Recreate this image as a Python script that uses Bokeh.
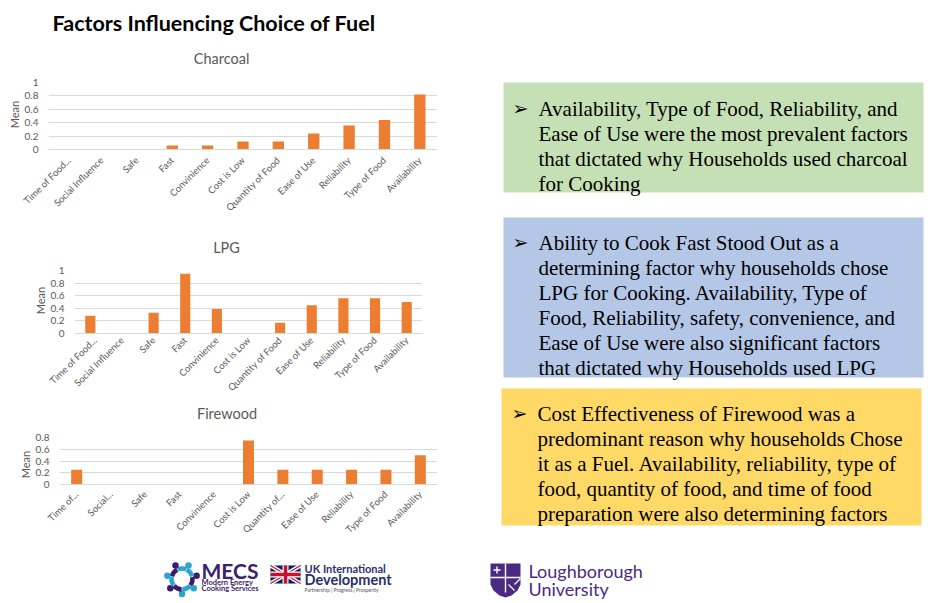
import math
from bokeh.plotting import figure
from bokeh.layouts import column, row
from bokeh.models import Range1d, FactorRange, FixedTicker, NumeralTickFormatter
from bokeh.embed import file_html
from bokeh.resources import INLINE
from bokeh.core.properties import value

# ---------------- data ----------------
factors = ["Time of Food...", "Social Influence", "Safe", "Fast", "Convinience",
           "Cost is Low", "Quantity of Food", "Ease of Use", "Reliability",
           "Type of Food", "Availability"]
firewood_factors = ["Time of...", "Social...", "Safe", "Fast", "Convinience",
                    "Cost is Low", "Quantity of...", "Ease of Use", "Reliability",
                    "Type of Food", "Availability"]
charcoal_mean = [0, 0, 0, 0.06, 0.06, 0.12, 0.12, 0.24, 0.36, 0.44, 0.82]
lpg_mean = [0.28, 0, 0.33, 0.95, 0.39, 0, 0.17, 0.45, 0.56, 0.56, 0.50]
firewood_mean = [0.25, 0, 0, 0, 0, 0.75, 0.25, 0.25, 0.25, 0.25, 0.50]
ticks_to_1 = [0, 0.2, 0.4, 0.6, 0.8, 1.0]
ticks_to_08 = [0, 0.2, 0.4, 0.6, 0.8]

slide_title = "Factors Influencing  Choice of Fuel"
chart_titles = ["Charcoal", "LPG", "Firewood"]
y_label = "Mean"
charcoal_note = ["Availability, Type of Food, Reliability, and",
                 "Ease of Use were the most prevalent factors",
                 "that dictated why Households used charcoal",
                 "for Cooking"]
lpg_note = ["Ability to Cook Fast  Stood Out as a",
            "determining factor why households chose",
            "LPG for Cooking. Availability, Type of",
            "Food, Reliability, safety, convenience, and",
            "Ease of Use were also significant  factors",
            "that dictated why Households used LPG"]
firewood_note = ["Cost Effectiveness of Firewood was a",
                 "predominant reason why households Chose",
                 "it as a Fuel. Availability, reliability, type of",
                 "food, quantity of food, and time of food",
                 "preparation were also determining factors"]

GRAY = "#595959"
ORANGE = "#ED7D31"
FONT = "Lato"
LEFT_W = 480


def no_align(p):
    try:
        p.frame_align = False
    except Exception:
        pass


def canvas(w, h, flip=True):
    yr = Range1d(h, 0) if flip else Range1d(0, h)
    p = figure(width=w, height=h, x_range=Range1d(0, w), y_range=yr,
               output_backend="svg", toolbar_location=None, min_border=0,
               x_axis_location=None, y_axis_location=None)
    p.grid.visible = False
    p.outline_line_color = None
    no_align(p)
    return p


def title_strip(name, h, cx, cy):
    p = canvas(LEFT_W, h)
    p.text(x=[cx], y=[cy], text=[name], text_font=value(FONT), text_font_size="14.5px",
           text_align="center", text_baseline="middle", text_color=GRAY)
    return p


def mean_strip(w, h, cx, cy_from_top):
    p = canvas(w, h, flip=False)
    p.text(x=[cx], y=[h - cy_from_top], text=[y_label], angle=math.pi / 2,
           text_font=value(FONT), text_font_size="11px", text_align="center",
           text_baseline="middle", text_color=GRAY)
    return p


def chart(cats, vals, ymax, ticks, width, height, bl, br, bt, bb, xstand):
    p = figure(width=width, height=height, x_range=FactorRange(factors=cats),
               y_range=Range1d(0, ymax), output_backend="svg", toolbar_location=None,
               min_border_left=bl, min_border_right=br, min_border_top=bt,
               min_border_bottom=bb)
    no_align(p)
    p.vbar(x=cats, top=vals, width=0.32, fill_color=ORANGE, line_color=None)
    p.outline_line_color = None
    p.xgrid.grid_line_color = None
    p.ygrid.grid_line_color = "#d9d9d9"
    p.ygrid.grid_line_width = 1
    p.yaxis.ticker = FixedTicker(ticks=ticks)
    p.yaxis.formatter = NumeralTickFormatter(format="0.[0]")
    p.yaxis.major_label_standoff = 10
    p.yaxis.major_label_text_font = FONT
    p.yaxis.major_label_text_font_size = "10px"
    p.yaxis.major_label_text_color = GRAY
    p.yaxis.axis_line_color = None
    p.yaxis.major_tick_line_color = None
    p.yaxis.minor_tick_line_color = None
    p.yaxis.major_tick_out = 0
    p.yaxis.major_tick_in = 0
    p.yaxis.minor_tick_out = 0
    p.xaxis.major_label_orientation = math.pi / 4
    p.xaxis.major_label_text_font = FONT
    p.xaxis.major_label_text_font_size = "9.5px"
    p.xaxis.major_label_text_color = GRAY
    p.xaxis.major_label_standoff = xstand
    p.xaxis.axis_line_color = "#d9d9d9"
    p.xaxis.major_tick_line_color = None
    p.xaxis.minor_tick_line_color = None
    p.xaxis.major_tick_out = 0
    p.xaxis.major_tick_in = 0
    return p


def chart_row(cats, vals, ymax, ticks, height, mean_w, mean_x, mean_y, frame_left, br, bt, bb, xstand):
    m = mean_strip(mean_w, height, mean_x, mean_y)
    c = chart(cats, vals, ymax, ticks, LEFT_W - mean_w, height, frame_left - mean_w, br, bt, bb, xstand)
    return row(m, c)


# slide title
title_fig = canvas(LEFT_W, 45)
title_fig.text(x=[52], y=[22], text=[slide_title], text_font=value(FONT),
               text_font_style="bold", text_font_size="21.5px", text_baseline="middle",
               text_color="#000000")

t1 = title_strip(chart_titles[0], 23, 221, 13)
r1 = chart_row(factors, charcoal_mean, 1.0, ticks_to_1, 159, 21, 14, 46, 47, 43, 14, 78, 9)
t2 = title_strip(chart_titles[1], 36, 226, 20)
r2 = chart_row(factors, lpg_mean, 1.0, ticks_to_1, 143, 47, 40, 37, 73, 58, 7, 73, 5)
t3 = title_strip(chart_titles[2], 19, 226.5, 6.5)
r3 = chart_row(firewood_factors, firewood_mean, 0.8, ticks_to_08, 128, 32, 25, 39, 57, 43, 12, 69, 8)

# right side notes
rf = canvas(463, 553)
rf.quad(left=[23, 23, 21], right=[443, 443, 441], top=[82, 217, 388], bottom=[192, 377, 525],
        fill_color=["#C5E0B4", "#B4C7E7", "#FFD966"], line_color=None)


def note(lines, y0, x0, bx):
    ys = [y0 + 25 * i for i in range(len(lines))]
    rf.text(x=[x0] * len(lines), y=ys, text=lines, text_font=value("Liberation Serif"),
            text_font_size="21px", text_baseline="alphabetic", text_color="#000000")
    rf.text(x=[bx], y=[y0 - 1], text=["\u27A2"], text_font=value("DejaVu Sans"),
            text_font_size="19px", text_baseline="alphabetic", text_color="#000000")


note(charcoal_note, 108.3, 58, 32)
note(lpg_note, 242.3, 58, 32)
note(firewood_note, 413.3, 57, 31)

# logos (bottom strip)
lg = canvas(943, 47)
cx, cy = 181.5, 25.5
mecs_cols = ["#2BA6CB", "#3D1A6E"]
for k in range(7):
    a = math.pi / 2 + k * 2 * math.pi / 7
    col = mecs_cols[k % 2]
    lg.arc(x=cx, y=cy, radius=10.5, start_angle=a - 0.42, end_angle=a + 0.42,
           line_width=4.5, line_color=col)
    lg.scatter(x=[cx + 15 * math.cos(a)], y=[cy + 15 * math.sin(a)], size=6.5,
               fill_color=col, line_color=None)
lg.text(x=[201], y=[17], text=["MECS"], text_font=value(FONT), text_font_style="bold",
        text_font_size="21px", text_baseline="middle", text_color="#3C1F6E")
lg.text(x=[201, 201], y=[29, 35], text=["Modern Energy", "Cooking Services"],
        text_font=value(FONT), text_font_style="bold", text_font_size="7.5px",
        text_baseline="middle", text_color="#3C1F6E")
# flag
lg.quad(left=[270], right=[300], top=[12], bottom=[30], fill_color="#012169", line_color=None)
lg.segment(x0=[270, 270], y0=[12, 30], x1=[300, 300], y1=[30, 12], line_color="white", line_width=4)
lg.segment(x0=[270, 270], y0=[12, 30], x1=[300, 300], y1=[30, 12], line_color="#C8102E", line_width=1.3)
lg.segment(x0=[285, 270], y0=[12, 21], x1=[285, 300], y1=[30, 21], line_color="white", line_width=6)
lg.segment(x0=[285, 270], y0=[12, 21], x1=[285, 300], y1=[30, 21], line_color="#C8102E", line_width=3.5)
lg.text(x=[304], y=[15], text=["UK International"], text_font=value(FONT), text_font_style="bold",
        text_font_size="11px", text_baseline="middle", text_color="#2B2F6B")
lg.text(x=[304], y=[25.5], text=["Development"], text_font=value(FONT), text_font_style="bold",
        text_font_size="14.5px", text_baseline="middle", text_color="#2B2F6B")
lg.text(x=[304], y=[36.5], text=["Partnership     |     Progress     |     Prosperity"],
        text_font=value(FONT), text_font_size="5px", text_baseline="middle", text_color="#555555")
# Loughborough shield
lg.patch(x=[490, 520, 520, 517, 511, 505, 499, 493, 490], y=[10, 10, 31, 37, 42, 44, 42, 37, 31],
         fill_color="#4B2A84", line_color=None)
lg.segment(x0=[505, 490, 496.5, 493], y0=[10, 24, 13, 16.5], x1=[505, 520, 496.5, 500],
           y1=[39, 24, 20, 16.5], line_color="white", line_width=1.4)
lg.segment(x0=[508, 514], y0=[31, 31], x1=[514, 520], y1=[37, 25], line_color="white", line_width=1.2)
lg.text(x=[528, 528], y=[17, 35], text=["Loughborough", "University"], text_font=value(FONT),
        text_font_size="18px", text_baseline="middle", text_color="#4B2A84")

left = column(title_fig, t1, r1, t2, r2, t3, r3)
page = column(row(left, rf), lg)
open("out.html", "w").write(file_html(page, INLINE))
